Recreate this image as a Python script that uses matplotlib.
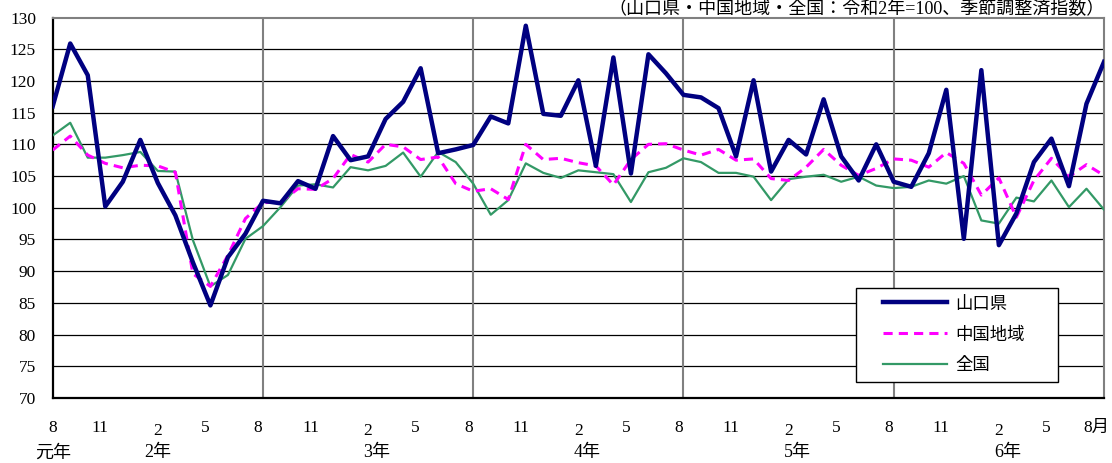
import matplotlib
matplotlib.use("Agg")
import matplotlib.pyplot as plt
import matplotlib.transforms as mtransforms
from matplotlib.patches import Rectangle

plt.rcParams['font.family'] = ['Liberation Serif', 'Noto Sans CJK JP', 'DejaVu Sans']

yamaguchi = [116.0, 125.9, 120.9, 100.2, 104.1, 110.7, 103.9, 98.8, 91.4, 84.6,
             92.2, 95.9, 101.1, 100.7, 104.2, 103.0, 111.3, 107.5, 108.1, 114.0,
             116.7, 122.0, 108.6, 109.2, 109.9, 114.4, 113.3, 128.7, 114.8, 114.5,
             120.1, 106.6, 123.7, 105.4, 124.2, 121.2, 117.8, 117.4, 115.7, 108.1,
             120.1, 105.7, 110.7, 108.4, 117.1, 108.1, 104.3, 110.0, 104.1, 103.3,
             108.6, 118.6, 95.1, 121.7, 94.1, 99.1, 107.2, 110.9, 103.4, 116.4, 123.0]
chugoku = [109.1, 111.3, 108.3, 107.0, 106.3, 106.7, 106.6, 105.6, 89.6, 87.6,
           92.5, 98.3, 100.8, 100.9, 103.0, 102.9, 104.6, 108.4, 107.2, 110.0,
           109.6, 107.6, 108.0, 103.8, 102.6, 103.0, 101.3, 110.0, 107.6, 107.8,
           107.1, 106.6, 103.6, 107.6, 110.0, 110.1, 109.1, 108.3, 109.2, 107.5,
           107.7, 104.6, 104.3, 106.4, 109.2, 106.7, 105.1, 106.2, 107.7, 107.5,
           106.4, 108.7, 107.0, 102.0, 104.7, 98.5, 104.3, 107.8, 104.9, 106.8, 105.1]
zenkoku = [111.4, 113.4, 107.9, 107.9, 108.3, 108.8, 105.8, 105.7, 94.9, 87.6,
           89.4, 95.1, 97.1, 100.1, 103.5, 103.7, 103.2, 106.4, 105.9, 106.6,
           108.7, 104.9, 108.8, 107.2, 103.8, 98.9, 101.2, 107.0, 105.5, 104.7,
           105.9, 105.6, 105.3, 100.9, 105.6, 106.3, 107.8, 107.2, 105.5, 105.5,
           104.9, 101.2, 104.5, 104.9, 105.2, 104.1, 104.9, 103.5, 103.1, 103.3,
           104.3, 103.8, 105.0, 98.0, 97.5, 101.6, 101.0, 104.3, 100.1, 103.0, 99.7]

series_names = ['山口県', '中国地域', '全国']
month_labels = ['8', '11', '2', '5'] * 5 + ['8月']
year_labels = ['元年', '2年', '3年', '4年', '5年', '6年']
year_label_pos = [0, 6, 18.5, 30.5, 42.5, 54.5]
title_text = '（山口県・中国地域・全国：令和2年=100、季節調整済指数）'

fig = plt.figure(figsize=(11.12, 4.63), dpi=100)
ax = fig.add_axes([0.0474, 0.1404, 0.9454, 0.8218])

x = list(range(len(yamaguchi)))
ax.plot(x, yamaguchi, color='#000080', lw=3.2, label=series_names[0], zorder=5)
ax.plot(x, chugoku, color='#FF00FF', lw=2.2, ls=(0, (3, 2)), label=series_names[1], zorder=4)
ax.plot(x, zenkoku, color='#339966', lw=1.6, label=series_names[2], zorder=3)

ax.set_xlim(0, 60)
ax.set_ylim(70, 130)
ax.set_yticks(range(70, 131, 5))
for v in range(75, 130, 5):
    ax.axhline(v, color='black', lw=0.9, zorder=1)
for xi in range(12, 60, 12):
    ax.axvline(xi, color='#808080', lw=1.5, zorder=1)

ax.set_xticks(range(0, 61, 3))
ax.set_xticklabels(month_labels)
ax.tick_params(axis='x', length=0, pad=16, labelsize=12.5)
ax.tick_params(axis='y', length=0, pad=12, labelsize=12.5)

px = 1.0 / 100
tl = ax.get_xticklabels()
for k, lab in enumerate(tl):
    t = lab.get_text()
    if k == len(tl) - 1:
        lab.set_transform(lab.get_transform() + mtransforms.ScaledTranslation(-8 * px, 0, fig.dpi_scale_trans))
    elif t == '2':
        lab.set_transform(lab.get_transform() + mtransforms.ScaledTranslation(0, -3 * px, fig.dpi_scale_trans))
    elif k > 0:
        lab.set_transform(lab.get_transform() + mtransforms.ScaledTranslation(-5 * px, 0, fig.dpi_scale_trans))

for sp in ['left', 'bottom']:
    ax.spines[sp].set_color('black')
    ax.spines[sp].set_linewidth(1.6)
for sp in ['top', 'right']:
    ax.spines[sp].set_color('#808080')
    ax.spines[sp].set_linewidth(1.5)

trans = mtransforms.blended_transform_factory(ax.transData, fig.transFigure)
for lbl, pos in zip(year_labels, year_label_pos):
    ax.text(pos, 1 - 453 / 463, lbl, transform=trans, ha='center', va='center',
            fontsize=13, clip_on=False)

fig.text(0.9937, 0.9995, title_text, ha='right', va='top', fontsize=13)

# legend frame drawn as a rectangle, legend entries placed inside it
ax.add_patch(Rectangle((0.764, 0.042), 0.192, 0.247, transform=ax.transAxes,
                       facecolor='white', edgecolor='black', lw=1.0, zorder=9))
leg = ax.legend(loc='upper left', bbox_to_anchor=(0.790, 0.267), frameon=False,
                fontsize=12.5, handlelength=3.7, handletextpad=0.45,
                labelspacing=0.85, borderpad=0, borderaxespad=0)
leg.set_zorder(10)

fig.savefig('out.png', dpi=100)
